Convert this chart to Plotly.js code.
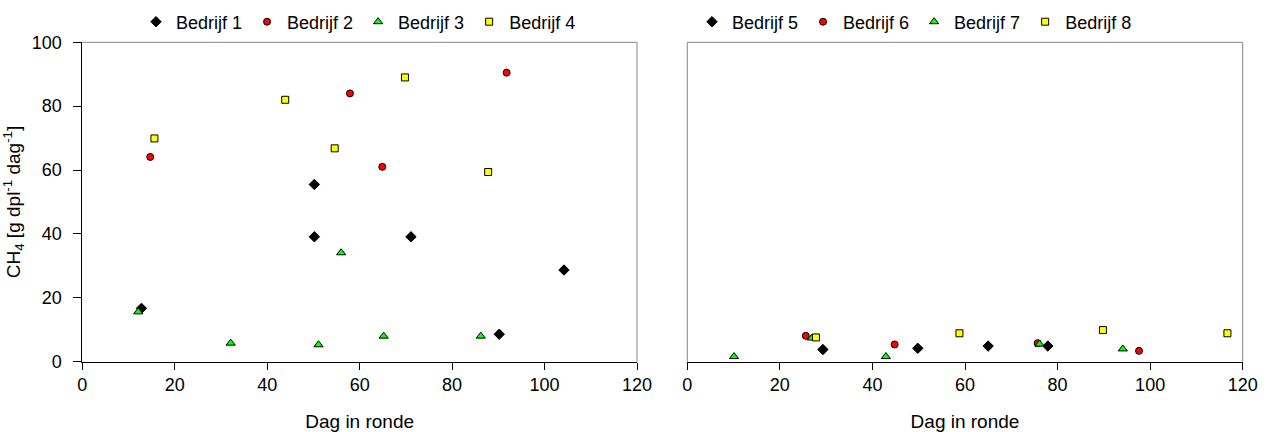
<!DOCTYPE html>
<html>
<head>
<meta charset="utf-8">
<script src="https://cdn.plot.ly/plotly-3.0.1.min.js"></script>
<style>html,body{margin:0;padding:0;background:#fff;}#chart{width:1272px;height:432px;}</style>
</head>
<body>
<div id="chart"></div>
<script>
// ---- data ----
var seriesNames = ["Bedrijf 1", "Bedrijf 2", "Bedrijf 3", "Bedrijf 4", "Bedrijf 5", "Bedrijf 6", "Bedrijf 7", "Bedrijf 8"];
var xTickVals = [0, 20, 40, 60, 80, 100, 120];
var yTickVals = [0, 20, 40, 60, 80, 100];

var dag1 = [12.8, 50.2, 50.2, 71.1, 90.2, 104.2];
var ch4_1 = [16.7, 55.5, 39.1, 39.1, 8.6, 28.7];
var dag2 = [14.7, 57.9, 64.9, 91.8];
var ch4_2 = [64.1, 84.0, 61.0, 90.5];
var dag3 = [12.1, 32.1, 51.1, 56.0, 65.2, 86.2];
var ch4_3 = [15.6, 5.8, 5.3, 34.1, 8.0, 8.0];
var dag4 = [15.6, 43.9, 54.6, 69.8, 87.8];
var ch4_4 = [69.9, 82.0, 66.8, 89.0, 59.4];

var dag5 = [29.3, 49.8, 65.0, 77.9];
var ch4_5 = [3.8, 4.2, 4.9, 4.9];
var dag6 = [25.6, 44.8, 75.7, 97.6];
var ch4_6 = [8.1, 5.4, 5.8, 3.4];
var dag7 = [10.1, 26.9, 42.9, 76.1, 94.1];
var ch4_7 = [1.6, 7.4, 1.6, 5.5, 4.0];
var dag8 = [27.8, 58.8, 89.8, 116.7];
var ch4_8 = [7.6, 8.9, 9.9, 8.9];

// ---- styles ----
var FONT = "Liberation Sans, Arial, sans-serif";
var markerStyles = [
  {symbol: "diamond", size: 8, color: "#000000", line: {color: "#000000", width: 1}},
  {symbol: "circle", size: 7, color: "#ff0000", line: {color: "#000000", width: 1}},
  {symbol: "triangle-up", size: 8, color: "#00ff00", line: {color: "#000000", width: 1}},
  {symbol: "square", size: 7, color: "#ffff00", line: {color: "#000000", width: 1}}
];

var xs = [dag1, dag2, dag3, dag4, dag5, dag6, dag7, dag8];
var ys = [ch4_1, ch4_2, ch4_3, ch4_4, ch4_5, ch4_6, ch4_7, ch4_8];

var traces = [];
for (var i = 0; i < 8; i++) {
  var right = i >= 4;
  traces.push({
    type: "scatter",
    mode: "markers",
    name: seriesNames[i],
    x: xs[i],
    y: ys[i],
    xaxis: right ? "x2" : "x",
    yaxis: right ? "y2" : "y",
    legend: right ? "legend2" : "legend",
    cliponaxis: false,
    marker: markerStyles[i % 4]
  });
}

var W = 1272, H = 432;
var xDom1 = [82.3 / W, 637 / W];
var xDom2 = [687.3 / W, 1242.7 / W];
var yDom = [(H - 361.7) / H, (H - 42.3) / H];

var tickFont = {family: FONT, size: 18, color: "#000000"};
var titleFont = {family: FONT, size: 19, color: "#000000"};

var xAxisBase = {
  range: [0, 120],
  tickmode: "array",
  tickvals: xTickVals,
  ticktext: xTickVals.map(String),
  showline: true,
  linecolor: "#000000",
  linewidth: 1,
  ticks: "outside",
  ticklen: 7,
  tickcolor: "#000000",
  tickwidth: 1,
  showgrid: false,
  zeroline: false,
  tickfont: tickFont,
  automargin: false,
  title: {text: "Dag in ronde", font: titleFont, standoff: 20}
};

var legendBase = {
  orientation: "h",
  y: (H - 22) / H, yanchor: "middle",
  font: {family: FONT, size: 18, color: "#000000"},
  bgcolor: "rgba(0,0,0,0)",
  itemclick: false, itemdoubleclick: false,
  tracegroupgap: 0
};

var layout = {
  width: W,
  height: H,
  margin: {l: 0, r: 0, t: 0, b: 0},
  paper_bgcolor: "#ffffff",
  plot_bgcolor: "#ffffff",
  font: {family: FONT, size: 18, color: "#000000"},
  showlegend: true,
  xaxis: Object.assign({}, xAxisBase, {domain: xDom1, anchor: "y"}),
  xaxis2: Object.assign({}, xAxisBase, {domain: xDom2, anchor: "y2"}),
  yaxis: {
    domain: yDom,
    anchor: "x",
    range: [0, 100],
    tickmode: "array",
    tickvals: yTickVals,
    ticktext: yTickVals.map(String),
    showline: true,
    linecolor: "#000000",
    linewidth: 1,
    ticks: "outside",
    ticklen: 8,
    tickcolor: "#000000",
    tickwidth: 1,
    ticklabelstandoff: 8,
    showgrid: false,
    zeroline: false,
    tickfont: tickFont,
    automargin: false,
    title: {text: "CH<sub>4</sub> [g dpl<sup>-1</sup> dag<sup>-1</sup>]", font: titleFont, standoff: 6}
  },
  yaxis2: {
    domain: yDom,
    anchor: "x2",
    range: [0, 100],
    showticklabels: false,
    ticks: "",
    showline: false,
    showgrid: false,
    zeroline: false,
    automargin: false
  },
  legend: Object.assign({}, legendBase, {x: 136 / W, xanchor: "left"}),
  legend2: Object.assign({}, legendBase, {x: 692 / W, xanchor: "left"}),
  shapes: [
    // left panel: grey top and right frame
    {type: "line", xref: "x domain", yref: "y domain", x0: 0, x1: 1, y0: 1, y1: 1, line: {color: "#868686", width: 1}},
    {type: "line", xref: "x domain", yref: "y domain", x0: 1, x1: 1, y0: 0, y1: 1, line: {color: "#868686", width: 1}},
    // right panel: grey top, left and right frame
    {type: "line", xref: "x2 domain", yref: "y2 domain", x0: 0, x1: 1, y0: 1, y1: 1, line: {color: "#868686", width: 1}},
    {type: "line", xref: "x2 domain", yref: "y2 domain", x0: 0, x1: 0, y0: 0, y1: 1, line: {color: "#868686", width: 1}},
    {type: "line", xref: "x2 domain", yref: "y2 domain", x0: 1, x1: 1, y0: 0, y1: 1, line: {color: "#868686", width: 1}}
  ]
};

Plotly.newPlot("chart", traces, layout, {displayModeBar: false, staticPlot: true});
</script>
</body>
</html>
